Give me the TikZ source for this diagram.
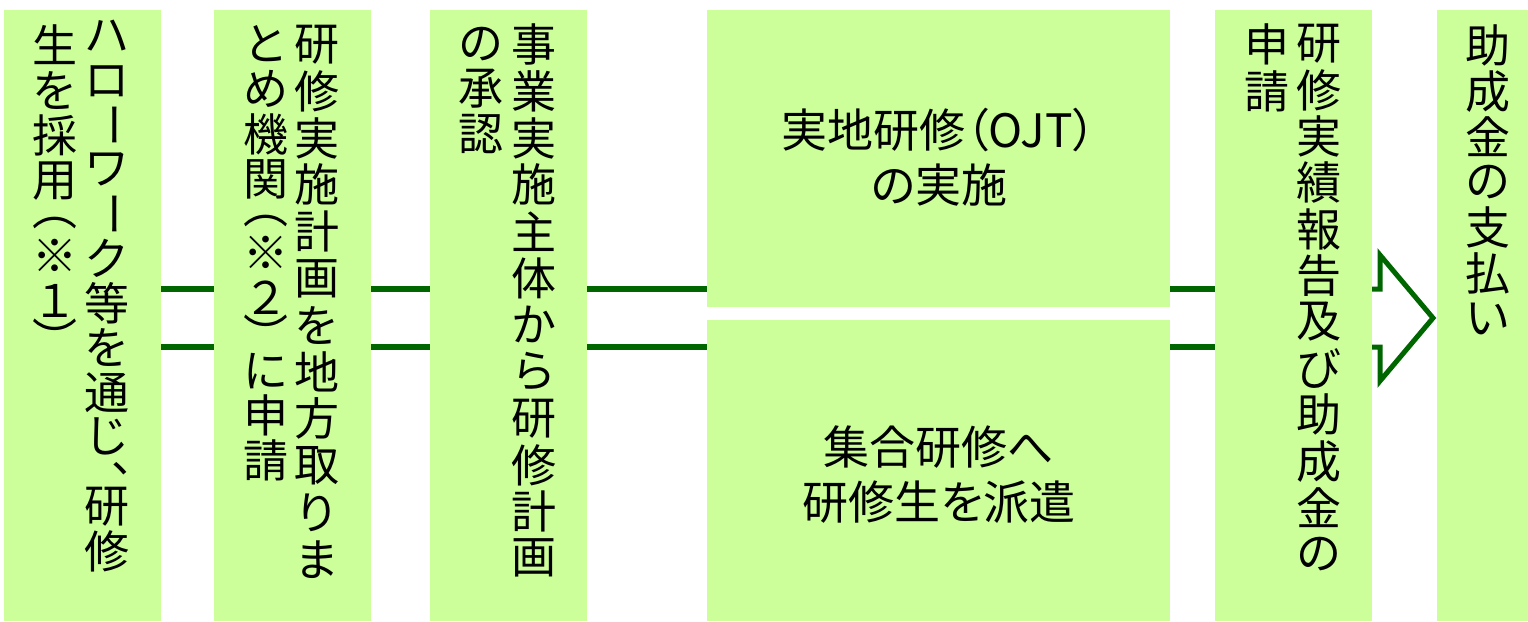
\documentclass[tikz,border=0pt]{standalone}
\usepackage{fontspec}
\usepackage{graphicx}
\newfontfamily\jp[RawFeature=+palt]{Noto Sans CJK JP}
\newfontfamily\jpv{Noto Sans CJK JP}
\definecolor{boxgreen}{HTML}{CCFF99}
\definecolor{linegreen}{HTML}{006600}
\ExplSyntaxOn
\dim_new:N \l__tt_pitch_dim
\cs_new_protected:Npn \__tt_ccell:nn #1#2
  { \vbox_to_ht:nn {#1} { \vss \hbox_to_wd:nn {1em} { \hss #2 \hss } \vss } }
\cs_new_protected:Npn \__tt_tcell:nnn #1#2#3
  { \vbox_to_ht:nn {#1} { \skip_vertical:n {#2} \hbox_to_wd:nn {1em} {#3} \vss } }
\cs_new_protected:Npn \__tt_char:n #1
  {
    \str_case:nnF {#1}
      {
        {ー} { \__tt_ccell:nn { \l__tt_pitch_dim } { \rotatebox[origin=c]{-90}{ー} } }
        {（} { \__tt_tcell:nnn { 0.63\l__tt_pitch_dim } { 0.3\l__tt_pitch_dim } { \hss ︵ \hss } }
        {）} { \__tt_tcell:nnn { 0.63\l__tt_pitch_dim } { -0.1\l__tt_pitch_dim } { \hss ︶ \hss } }
        {、} { \__tt_tcell:nnn { 0.57\l__tt_pitch_dim } { 0.07\l__tt_pitch_dim } { \kern0.6em 、 \hss } }
      }
      { \__tt_ccell:nn { \l__tt_pitch_dim } {#1} }
  }
\NewDocumentCommand \tatecol { O{0pt} m m }
  {
    \vbox_top:n
      {
        \offinterlineskip
        \dim_set:Nn \l__tt_pitch_dim {#2}
        \kern0pt
        \skip_vertical:n {#1}
        \tl_map_inline:nn {#3} { \__tt_char:n {##1} }
      }
  }
\ExplSyntaxOff
% #1 centre distance, #2 right column, #3 left column (each a \tatecol)
\newcommand\tatepair[3]{\hbox{\kern#1\relax#2\kern-\dimexpr#1+1em\relax#3\kern#1\relax}}
\begin{document}
\begin{tikzpicture}[x=1pt,y=-1pt,
  greenbox/.style={fill=boxgreen,draw=none,inner sep=0pt,outer sep=0pt,anchor=north west},
  tall/.style={greenbox,minimum width=157pt,minimum height=611pt},
  wide/.style={greenbox,minimum width=463pt},
  vtxt/.style={inner sep=0pt,outer sep=0pt,anchor=base,font=\jpv\fontsize{45}{45}\selectfont},
  htxt/.style={inner sep=0pt,outer sep=0pt,align=center,font=\jp\fontsize{46}{55}\selectfont},
  conn/.style={draw=linegreen,line width=6pt},
  blockarrow/.style={draw=linegreen,line width=5pt,line join=miter}]
\useasboundingbox[fill=white] (0,0) rectangle (1528,621);
\coordinate (ya) at (0,289);
\coordinate (yb) at (0,347);
% boxes
\node[tall] (b1) at (4,10) {};
\node[tall] (b2) at (214,10) {};
\node[tall] (b3) at (430,10) {};
\node[wide,minimum height=297pt] (b4) at (707,10) {};
\node[wide,minimum height=301pt] (b5) at (707,320) {};
\node[tall] (b6) at (1215,10) {};
% connectors
\draw[conn] (b1.east |- ya) -- (b2.west |- ya);
\draw[conn] (b1.east |- yb) -- (b2.west |- yb);
\draw[conn] (b2.east |- ya) -- (b3.west |- ya);
\draw[conn] (b2.east |- yb) -- (b3.west |- yb);
\draw[conn] (b3.east |- ya) -- (b4.west |- ya);
\draw[conn] (b3.east |- yb) -- (b5.west |- yb);
\draw[conn] (b4.east |- ya) -- (b6.west |- ya);
\draw[conn] (b5.east |- yb) -- (b6.west |- yb);
% block arrow
\coordinate (tip) at (1433,318);
\draw[blockarrow] (b6.east |- ya) -- (1380,289) -- (1380,255) -- (tip) -- (1380,381) -- (1380,347) -- (b6.east |- yb);
\node[greenbox,minimum width=100pt,minimum height=611pt] (b7) at (1437,10) {};
% texts
\node[vtxt] (t1) at (81,14) {\tatepair{52pt}{\tatecol{44.5pt}{ハローワーク等を通じ、研修}}{\tatecol[8pt]{45.5pt}{生を採用（※１）}}};
\node[vtxt] (t2) at (291.5,21) {\tatepair{51pt}{\tatecol{46.8pt}{研修実施計画を地方取りま}}{\tatecol[0.5pt]{45pt}{とめ機関（※２）に申請}}};
\node[vtxt] (t3) at (507.5,21.3) {\tatepair{53pt}{\tatecol{46.7pt}{事業実施主体から研修計画}}{\tatecol[0.2pt]{45pt}{の承認}}};
\node[htxt] (t4) at (939,157) {実地研修（OJT）\\の実施};
\node[htxt] (t5) at (939,475) {集合研修へ\\研修生を派遣};
\node[vtxt] (t6) at (1293,20.4) {\tatepair{52pt}{\tatecol{46.4pt}{研修実績報告及び助成金の}}{\tatecol[0.8pt]{46.5pt}{申請}}};
\node[vtxt] (t7) at (1487.5,22.7) {\tatecol{45.6pt}{助成金の支払い}};
\end{tikzpicture}
\end{document}
